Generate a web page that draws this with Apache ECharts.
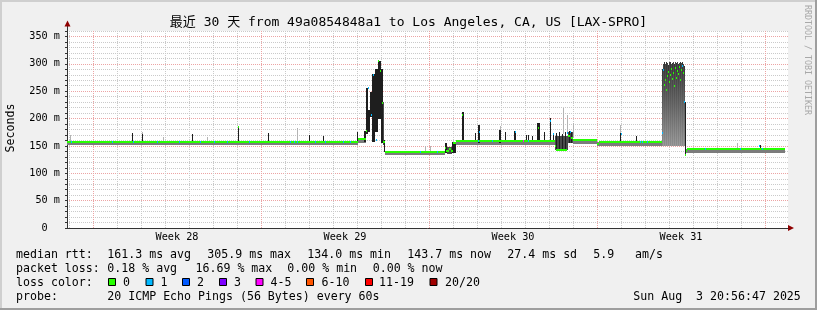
<!DOCTYPE html>
<html><head><meta charset="utf-8">
<script src="https://cdn.jsdelivr.net/npm/echarts@6/dist/echarts.min.js"></script>
<style>html,body{margin:0;padding:0;background:#f0f0f0}#c{width:817px;height:310px}</style>
</head><body><div id="c"></div>
<script>
const FONT = "'DejaVu Sans Mono', 'Noto Sans CJK SC', monospace";
const titleText = '最近 30 天 from 49a0854848a1 to Los Angeles, CA, US [LAX-SPRO]';

// x axis: hours relative to Sun Jul 6 2025 00:00 ; graph spans Jul 4 ~21:00 .. Aug 3 20:56
const xRange = [-26, 695];
const dayLines = [-24,0,24,48,72,96,120,144,168,192,216,240,264,288,312,336,360,384,408,432,456,480,504,528,552,576,600,624,648,672];
const weekLines = [0,168,336,504,672];
const weekTicks = [84,252,420,588];
const weekLabels = ['Week 28','Week 29','Week 30','Week 31'];
const yRange = [0, 360];

const lossColors = ['#26ff00','#00b8ff','#0059ff','#7e00ff','#ff00ff','#ff5500','#ff0000','#a10000'];
const lossLabels = ['0','1','2','3','4-5','6-10','11-19','20/20'];

// smoke: [hourStart, hourEnd, lowMs, highMs, shade]  shade 0=base 1=dark 2=light 4=dark grey
const smokeBase = [
  [-26,265,152,158,0],[265,273,155.5,162,0],[292,352,134,139.5,0],[363,462,152.5,159,0],
  [480,504,153.5,160,0],[504,569,150.5,157,0],[593,692,137,143.5,0]
];
const smokeDark = [
  [39,40,158,174,1],[49,50,158,172,1],[99,100,158,172,1],[145,146,158,185,1],[175,176,158,174,1],
  [216,217,158,170,1],[230,231,158,168,1],[264,265,158,176,1],
  [271,273,158,178,1],[273,275,172,256,1],[275,277,175,215,1],[277,279,203,248,1],[279,282,158,282,1],
  [282,285,175,290,1],[285,288,200,306,1],[288,290,156,290,1],[290,291,152,230,4],[291,292,139,160,1],
  [352,354,137,156,1],[354,359,136,148,4],[359,363,137,158,1],
  [369,371,158,212,1],[382,383,158,174,1],[385,387,155,189,1],[406,408,156,180,1],[412,413,158,176,1],
  [421,423,157,178,1],[433,434,158,170,1],[435,436,158,170,1],[439,440,158,168,1],[444,447,157,192,1],
  [451,452,158,175,1],[457,458,158,201,1],[460,461,158,174,1],
  [462,475,142,168,4],[463,464,143,174,1],[466,467,143,176,1],[469,470,143,172,1],[472,473,143,175,1],
  [475,480,156,175,4],[476,477,156,178,1],[478,479,156,176,1],
  [527,528,157,174,1],[543,544,157,169,1],[592,593,134,231,1],[667,668,144,151,1]
];
const smokeLight = [
  [-23,-22,158,170,2],[49,50,172,176,2],[70,71,158,167,2],[114,115,158,167,2],[204,205,158,183,2],
  [332,333,140,150,2],[337,338,140,149,2],[407,408,180,186,2],[470,471,172,220,2],[474,475,175,207,2],
  [480,481,165,192,2],[527,528,174,189,2],[644,645,144,156,2]
];
const blockHours = [569,570,571,572,573,574,575,576,577,578,579,580,581,582,583,584,585,586,587,588,589,590,591];
const blockLow   = [150,149,149,150,149,149,150,149,149,150,149,149,150,149,149,150,149,149,150,149,149,150,149];
const blockHigh  = [290,300,303,299,304,301,297,303,304,300,302,303,299,304,302,303,300,302,304,301,303,299,296];

// median: [hourStart, hourEnd, ms, lossIndex]
const medianRuns = [
  [-26,265,158,0],[145,146,184,0],[265,273,162,0],
  [273,274,178,0],[275,276,256,1],[278,279,207,1],[280,281,280,1],[283,284,161,1],[285,286,305.9,0],
  [287,288,286,0],[289,290,228,0],[290,292,158,0],
  [292,352,139.5,0],
  [352,353,146,0],[353,356,140,0],[356,358,145,0],[358,360,141,0],[360,363,155,0],
  [363,462,159,0],[369,370,207,0],[386,387,176,1],[422,423,176,1],[445,446,183,0],[457,458,196,1],[460,461,172,1],
  [462,463,150,0],[463,474,143,0],[474,475,174,1],[475,477,168,0],[477,478,175,1],[478,480,165,0],[480,504,160,0],
  [504,506,154,0],[506,569,157,0],[528,529,172,1],
  [569,570,174,1],[570,571,288,1],[571,572,262,0],[572,573,271,0],[573,574,253,0],[574,575,277,0],[575,576,285,0],
  [576,577,266,0],[577,578,279,0],[578,579,290,0],[579,580,272,0],[580,581,283,0],[581,582,260,0],[582,583,292,0],
  [583,584,275,0],[584,585,287,0],[585,586,281,0],[586,587,294,0],[587,588,270,0],[588,589,289,0],[589,590,296,1],
  [590,591,284,0],[591,592,231,1],[592,593,134,0],
  [593,594,140,0],[594,692,143.7,0],[666,667,149,1]
];
// isolated loss dots on the baseline: [hour, ms, lossIndex]
const lossDots = [
  [-22,158,1],[19,158,1],[40,158,1],[64,158,1],[86,158,1],[107,158,1],[121,158,1],[134,158,1],[156,158,1],
  [197,158,1],[201,158,1],[204,158,1],[222,158,1],[232,158,1],[250,158,1],[257,158,1],
  [327,139.5,1],[344,139.5,1],[385,159,1],[399,159,1],[430,159,4],[435,159,1],
  [547,157,1],[549,157,1],[554,157,1],[612,143.7,1],[647,143.7,1],[669,143.7,1]
];

const smokeData = smokeBase.concat(smokeLight, smokeDark,
  blockHours.map((h, i) => [h, h + 1, blockLow[i], blockHigh[i], 3]));
const dotData = lossDots.map(d => [d[0], d[0] + 1, d[1], d[2]]);

const GRAY = '#cacaca', RED = '#eca4a4';
const dayColors = dayLines.map(d => weekLines.indexOf(d) >= 0 ? RED : GRAY);
const smokeFills = ['#7c7c7c', '#1e1e1e', '#b4b4b4', null, '#4a4a4a'];
const blockGrads = [
  new echarts.graphic.LinearGradient(0, 0, 0, 1, [
    {offset: 0, color: '#343434'}, {offset: 0.45, color: '#5c5c5c'}, {offset: 1, color: '#8e8e8e'}]),
  new echarts.graphic.LinearGradient(0, 0, 0, 1, [
    {offset: 0, color: '#444444'}, {offset: 0.5, color: '#6a6a6a'}, {offset: 1, color: '#9c9c9c'}])
];

function smokeItem(params, api) {
  const a = api.coord([api.value(0), api.value(3)]);
  const b = api.coord([api.value(1), api.value(2)]);
  const x0 = Math.round(a[0]), x1 = Math.round(b[0]);
  const y0 = Math.round(a[1]), y1 = Math.max(Math.round(b[1]), y0 + 1);
  const shade = api.value(4);
  const fill = shade === 3 ? blockGrads[params.dataIndex % 2] : smokeFills[shade];
  return {type: 'rect', shape: {x: x0, y: y0, width: Math.max(x1 - x0, 1), height: y1 - y0}, style: {fill: fill}};
}
function medianItem(params, api) {
  const a = api.coord([api.value(0), api.value(2)]);
  const b = api.coord([api.value(1), api.value(2)]);
  const x0 = Math.round(a[0]), x1 = Math.round(b[0]);
  const y = Math.round(a[1]) - 1;
  return {type: 'rect', shape: {x: x0, y: y, width: Math.max(x1 - x0, 1), height: 2},
    style: {fill: lossColors[api.value(3)]}};
}

const legendFont = '11.6px ' + FONT;
const textRows = [
  [254.5, [[16,'median rtt:'],[107.3,'161.3 ms avg'],[207.3,'305.9 ms max'],[307.3,'134.0 ms min'],[407.3,'143.7 ms now'],[507.3,'27.4 ms sd'],[593.3,'5.9'],[635,'am/s']]],
  [268.5, [[16,'packet loss:'],[107.3,'0.18 % avg'],[195.5,'16.69 % max'],[287.3,'0.00 % min'],[372.7,'0.00 % now']]],
  [282.5, [[16,'loss color:']]],
  [296.5, [[16,'probe:'],[107.3,'20 ICMP Echo Pings (56 Bytes) every 60s'],[633.3,'Sun Aug  3 20:56:47 2025']]]
];
const boxX = [108.5,146,182.5,219.5,256,306.5,365.5,430];
const boxLabelX = [123,160.5,197,234,270.5,321.5,379,445];

const graphics = [
  {type:'rect', shape:{x:0,y:0,width:817,height:2}, style:{fill:'#cfcfcf'}, silent:true},
  {type:'rect', shape:{x:0,y:0,width:2,height:310}, style:{fill:'#cfcfcf'}, silent:true},
  {type:'rect', shape:{x:0,y:308,width:817,height:2}, style:{fill:'#9e9e9e'}, silent:true},
  {type:'rect', shape:{x:815,y:0,width:2,height:310}, style:{fill:'#9e9e9e'}, silent:true},
  {type:'line', shape:{x1:67.5,y1:31,x2:67.5,y2:25}, style:{stroke:'#333',lineWidth:1}, silent:true},
  {type:'polygon', shape:{points:[[64.5,26.5],[70.5,26.5],[67.5,20.5]]}, style:{fill:'#8f0000'}, silent:true},
  {type:'polygon', shape:{points:[[788,225],[788,231],[794,228]]}, style:{fill:'#8f0000'}, silent:true},
  {type:'text', x:11, y:128, rotation:Math.PI/2, style:{text:'Seconds', font:legendFont, fill:'#000', align:'center', verticalAlign:'middle'}, silent:true},
  {type:'text', x:807.5, y:60, rotation:-Math.PI/2, style:{text:'RRDTOOL / TOBI OETIKER', font:'8.3px ' + FONT, fill:'#a8a8a8', align:'center', verticalAlign:'middle'}, silent:true}
];
textRows.forEach(r => r[1].forEach(t => graphics.push({type:'text', x:t[0], y:r[0],
  style:{text:t[1], font:legendFont, fill:'#000', verticalAlign:'middle'}, silent:true})));
lossLabels.forEach((l, i) => {
  graphics.push({type:'rect', shape:{x:boxX[i], y:278.5, width:7, height:7}, style:{fill:lossColors[i], stroke:'#000', lineWidth:1}, silent:true});
  graphics.push({type:'text', x:boxLabelX[i], y:282.5, style:{text:l, font:legendFont, fill:'#000', verticalAlign:'middle'}, silent:true});
});

const chart = echarts.init(document.getElementById('c'), null, {renderer:'canvas'});
chart.setOption({
  backgroundColor: '#f0f0f0',
  animation: false,
  title: {text: titleText, left: 'center', top: 11, textStyle: {fontFamily: FONT, fontSize: 13, fontWeight: 'normal', color: '#000'}},
  grid: {left: 67, right: 29, top: 31, bottom: 82, show: true, backgroundColor: '#ffffff', borderWidth: 0},
  xAxis: {
    type: 'value', min: xRange[0], max: xRange[1],
    axisLine: {show: true, onZero: false, lineStyle: {color: '#333', width: 1}},
    axisTick: {show: false, customValues: dayLines},
    splitLine: {show: true, lineStyle: {color: dayColors, type: [1, 1], width: 1}},
    axisLabel: {customValues: weekTicks, formatter: v => weekLabels[weekTicks.indexOf(v)] || '',
      fontFamily: FONT, fontSize: 10.2, color: '#000', margin: 4}
  },
  yAxis: {
    type: 'value', min: yRange[0], max: yRange[1], interval: 10,
    axisLine: {show: true, onZero: false, lineStyle: {color: '#333', width: 1}},
    axisTick: {show: true, length: 2, lineStyle: {color: '#333'}},
    splitLine: {show: true, lineStyle: {color: [RED, GRAY, GRAY, GRAY, GRAY], type: [1, 1], width: 1}},
    axisLabel: {formatter: v => (v % 50) ? '' : (v === 0 ? '0  ' : v + ' m'),
      fontFamily: FONT, fontSize: 10.2, color: '#000', margin: 7}
  },
  graphic: graphics,
  series: [
    {type: 'custom', name: 'smoke', renderItem: smokeItem, data: smokeData, z: 10, clip: true, silent: true},
    {type: 'custom', name: 'median', renderItem: medianItem, data: medianRuns, z: 11, clip: true, silent: true},
    {type: 'custom', name: 'loss', renderItem: medianItem, data: dotData, z: 12, clip: true, silent: true}
  ]
});
</script></body></html>
